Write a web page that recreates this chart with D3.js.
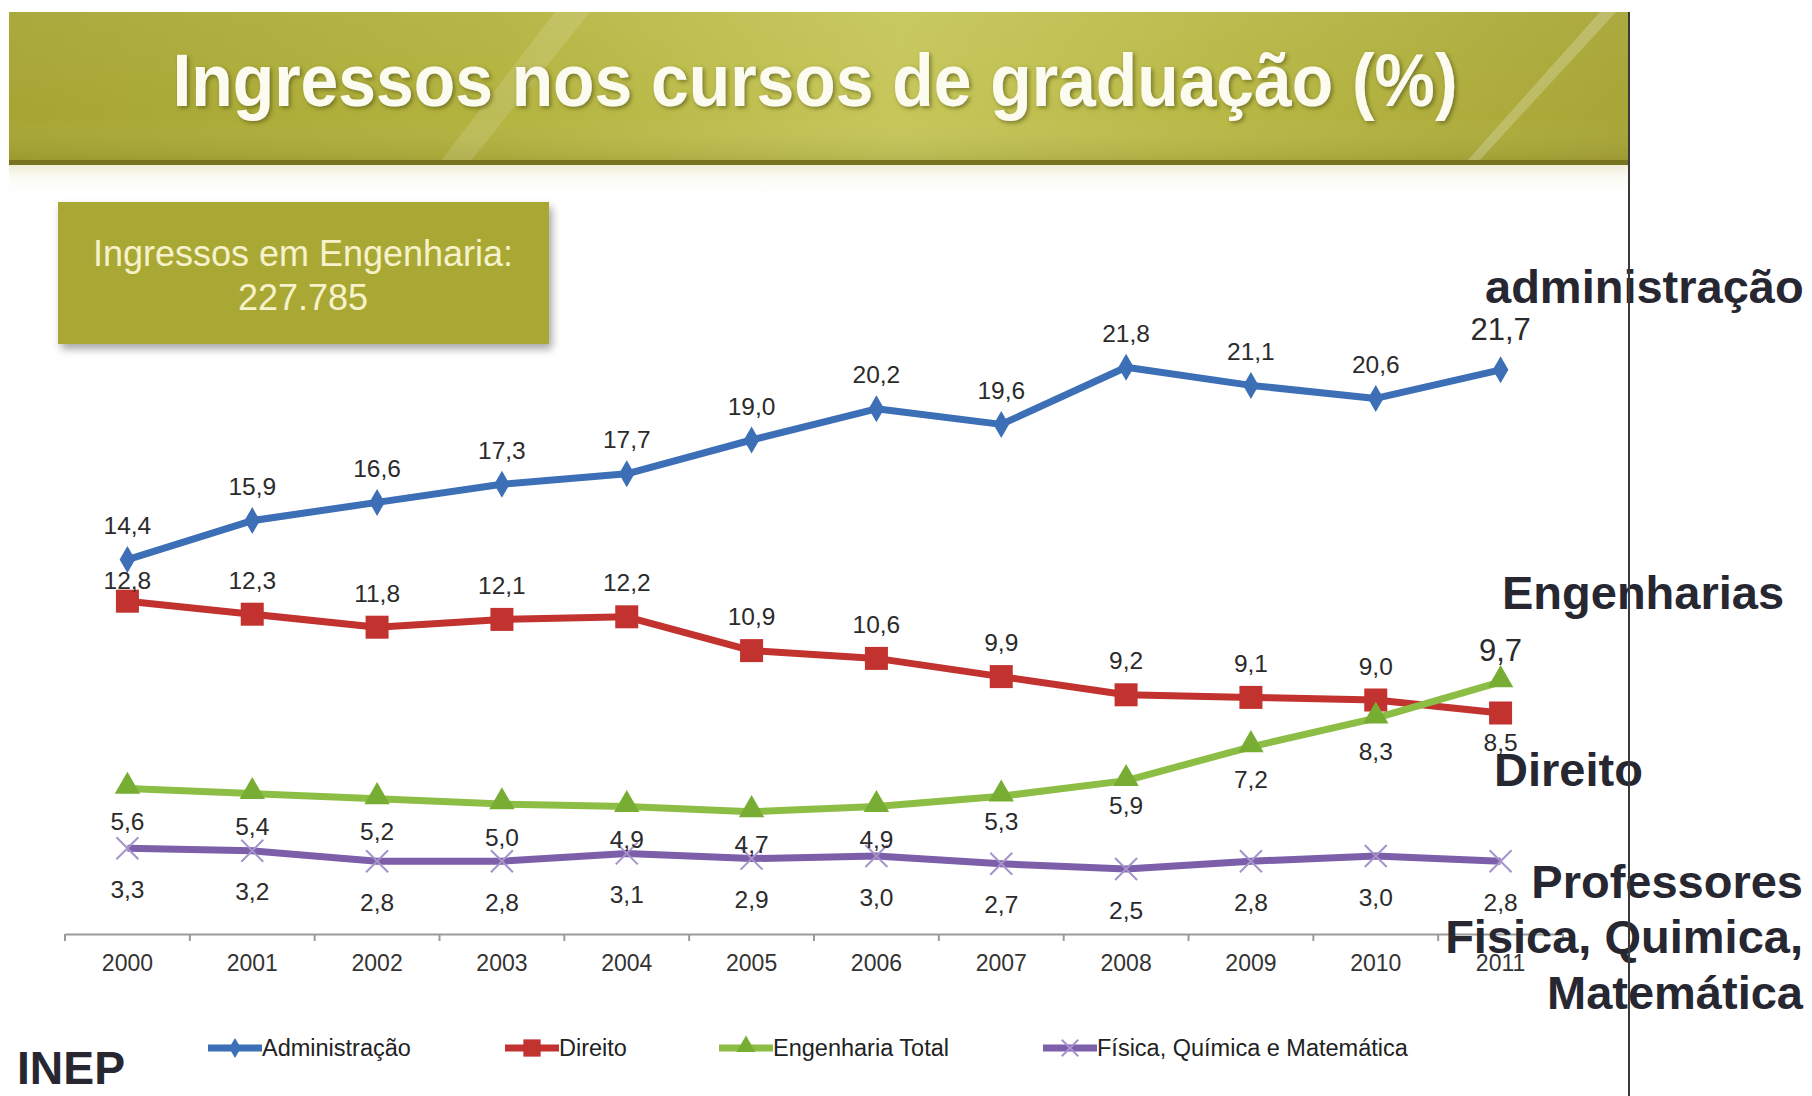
<!DOCTYPE html>
<html>
<head>
<meta charset="utf-8">
<script src="https://cdn.jsdelivr.net/npm/d3@7"></script>
<style>
  html, body { margin: 0; padding: 0; background: #ffffff; }
  svg { display: block; }
</style>
</head>
<body>
<svg id="chart" width="1812" height="1096"></svg>
<script>
// ---------------- DATA ----------------
const years = ["2000","2001","2002","2003","2004","2005","2006","2007","2008","2009","2010","2011"];
const administracao = [14.4, 15.9, 16.6, 17.3, 17.7, 19.0, 20.2, 19.6, 21.8, 21.1, 20.6, 21.7];
const direito       = [12.8, 12.3, 11.8, 12.1, 12.2, 10.9, 10.6, 9.9, 9.2, 9.1, 9.0, 8.5];
const engenharia    = [5.6, 5.4, 5.2, 5.0, 4.9, 4.7, 4.9, 5.3, 5.9, 7.2, 8.3, 9.7];
const fisQuiMat     = [3.3, 3.2, 2.8, 2.8, 3.1, 2.9, 3.0, 2.7, 2.5, 2.8, 3.0, 2.8];
const seriesNames   = ["Administração", "Direito", "Engenharia Total", "Física, Química e Matemática"];
const titleText     = "Ingressos nos cursos de graduação (%)";
const boxLines      = ["Ingressos em Engenharia:", "227.785"];
const sideNotes     = ["administração", "Engenharias", "Direito", "Professores", "Fisica, Quimica,", "Matemática"];
const sourceText    = "INEP";

// ---------------- SETUP ----------------
const svg = d3.select("#chart");
const font = "'Liberation Sans', Arial, sans-serif";

const defs = svg.append("defs");
const bannerGrad = defs.append("linearGradient").attr("id", "bannerGrad").attr("x1", "0").attr("x2", "1").attr("y1", "0").attr("y2", "0");
[["0%", "#a6a533"], ["30%", "#b3b33f"], ["55%", "#c6c65a"], ["75%", "#b8b846"], ["100%", "#a7a535"]]
  .forEach(([o, c]) => bannerGrad.append("stop").attr("offset", o).attr("stop-color", c));
const bannerV = defs.append("linearGradient").attr("id", "bannerV").attr("x1", "0").attr("x2", "0").attr("y1", "0").attr("y2", "1");
[["0%", "rgba(255,255,255,0.05)"], ["70%", "rgba(255,255,255,0)"], ["100%", "rgba(60,60,0,0.12)"]]
  .forEach(([o, c]) => bannerV.append("stop").attr("offset", o).attr("stop-color", c));
const underGrad = defs.append("linearGradient").attr("id", "underGrad").attr("x1", "0").attr("x2", "0").attr("y1", "0").attr("y2", "1");
[["0%", "#eeeed8"], ["40%", "#fbfbf4"], ["100%", "#ffffff"]]
  .forEach(([o, c]) => underGrad.append("stop").attr("offset", o).attr("stop-color", c));
const shadow = defs.append("filter").attr("id", "boxShadow").attr("x", "-10%").attr("y", "-10%").attr("width", "130%").attr("height", "140%");
shadow.append("feDropShadow").attr("dx", 3).attr("dy", 5).attr("stdDeviation", 4).attr("flood-color", "#000").attr("flood-opacity", 0.35);
const txtShadow = defs.append("filter").attr("id", "txtShadow");
txtShadow.append("feDropShadow").attr("dx", 2).attr("dy", 2).attr("stdDeviation", 2).attr("flood-color", "#4d4c10").attr("flood-opacity", 0.6);

// ---------------- BANNER ----------------
svg.append("rect").attr("x", 9).attr("y", 12).attr("width", 1620).attr("height", 150).attr("fill", "url(#bannerGrad)");
svg.append("rect").attr("x", 9).attr("y", 12).attr("width", 1620).attr("height", 150).attr("fill", "url(#bannerV)");
// light diagonal streaks
svg.append("path").attr("d", "M555,12 L590,12 L470,162 L440,162 Z").attr("fill", "#ffffff").attr("opacity", 0.13);
svg.append("path").attr("d", "M1600,12 L1616,12 L1478,162 L1466,162 Z").attr("fill", "#ffffff").attr("opacity", 0.22);
svg.append("rect").attr("x", 9).attr("y", 160).attr("width", 1620).attr("height", 5).attr("fill", "#76741f");
svg.append("rect").attr("x", 9).attr("y", 165).attr("width", 1620).attr("height", 30).attr("fill", "url(#underGrad)");

svg.append("text")
  .attr("x", 815).attr("y", 106)
  .attr("text-anchor", "middle")
  .attr("font-family", font).attr("font-weight", "bold").attr("font-size", 74)
  .attr("textLength", 1285).attr("lengthAdjust", "spacingAndGlyphs")
  .attr("fill", "#fbfbf0").attr("filter", "url(#txtShadow)")
  .text(titleText);

// ---------------- INFO BOX ----------------
svg.append("rect").attr("x", 58).attr("y", 202).attr("width", 491).attr("height", 142)
  .attr("fill", "#aaa834").attr("filter", "url(#boxShadow)");
svg.selectAll("text.boxline").data(boxLines).join("text")
  .attr("class", "boxline")
  .attr("x", 303).attr("y", (d, i) => 266 + i * 44)
  .attr("text-anchor", "middle")
  .attr("font-family", font).attr("font-size", 36)
  .attr("fill", "#f6f2cc")
  .text(d => d);

// ---------------- SCALES ----------------
const xBand = d3.scaleBand().domain(years).range([65, 1563]).padding(0);
const x = d => xBand(d) + xBand.bandwidth() / 2;
const y = d3.scaleLinear().domain([0, 25]).range([934, 284]);

// ---------------- AXIS ----------------
const axisG = svg.append("g").attr("transform", "translate(0,934)");
axisG.call(d3.axisBottom(xBand).tickSize(0).tickPadding(17))
  .call(g => g.select(".domain").attr("stroke", "#9a9a9a").attr("stroke-width", 2))
  .call(g => g.selectAll("text").attr("font-family", font).attr("font-size", 23).attr("fill", "#333").attr("dy", "0.85em"));
const bounds = years.map(d => xBand(d)).concat([xBand(years[years.length - 1]) + xBand.bandwidth()]);
axisG.selectAll("line.btick").data(bounds).join("line")
  .attr("class", "btick")
  .attr("x1", d => d).attr("x2", d => d).attr("y1", 0).attr("y2", 7)
  .attr("stroke", "#9a9a9a").attr("stroke-width", 2);

// ---------------- SERIES ----------------
const series = [
  { name: seriesNames[0], values: administracao, color: "#3c6fb6", marker: "diamond", labelPos: -34 },
  { name: seriesNames[1], values: direito,       color: "#c2322f", marker: "square",  labelPos: -34 },
  { name: seriesNames[2], values: engenharia,    color: "#8cbe46", marker: "triangle", labelPos: 33 },
  { name: seriesNames[3], values: fisQuiMat,     color: "#7d5ea9", marker: "x",        labelPos: 41 }
];

function drawMarker(g, type, color, cx, cy, scale) {
  const k = scale || 1;
  if (type === "diamond") {
    g.append("path").attr("d", d3.symbol(d3.symbolDiamond, 210 * k * k)()).attr("transform", `translate(${cx},${cy})`).attr("fill", color);
  } else if (type === "square") {
    g.append("rect").attr("x", cx - 11.5 * k).attr("y", cy - 11.5 * k).attr("width", 23 * k).attr("height", 23 * k).attr("fill", color);
  } else if (type === "triangle") {
    g.append("path").attr("d", d3.symbol(d3.symbolTriangle, 280 * k * k)()).attr("transform", `translate(${cx},${cy - 2 * k})`).attr("fill", "#78ad34");
  } else {
    const r = 11 * k;
    g.append("path").attr("d", `M${cx - r},${cy - r}L${cx + r},${cy + r}M${cx - r},${cy + r}L${cx + r},${cy - r}`)
      .attr("stroke", "#a593cc").attr("stroke-width", 2).attr("fill", "none");
  }
}

const line = d3.line().x((d, i) => x(years[i])).y(d => y(d));
const plotG = svg.append("g");
series.forEach(s => {
  plotG.append("path").datum(s.values).attr("d", line)
    .attr("fill", "none").attr("stroke", s.color).attr("stroke-width", 7).attr("stroke-linejoin", "round");
});
series.forEach(s => {
  const g = plotG.append("g");
  s.values.forEach((v, i) => drawMarker(g, s.marker, s.color, x(years[i]), y(v), 1));
});

// data labels
const fmt = v => d3.format(".1f")(v).replace(".", ",");
const last = years.length - 1;
series.forEach((s, si) => {
  s.values.forEach((v, i) => {
    let off = s.labelPos, size = 24.5, dx = 0;
    if (si === 1 && i === 0) off = -21;
    if (si === 1 && i === last) off = 29;
    if (si === 2 && i === last) { off = -31; size = 31; }
    if (si === 0 && i === last) { off = -40; size = 31; }
    if (si === 2 && (i === 7 || i === 8)) off = 25;
    plotG.append("text")
      .attr("x", x(years[i]) + dx).attr("y", y(v) + off)
      .attr("text-anchor", "middle").attr("dominant-baseline", "central")
      .attr("font-family", font).attr("font-size", size).attr("fill", "#2b2b2b")
      .text(fmt(v));
  });
});

// ---------------- LEGEND ----------------
const legendX = [208, 505, 719, 1043];
const legG = svg.append("g").attr("transform", "translate(0,1048)");
series.forEach((s, i) => {
  const lx = legendX[i];
  legG.append("line").attr("x1", lx).attr("x2", lx + 54).attr("y1", 0).attr("y2", 0)
    .attr("stroke", s.color).attr("stroke-width", 7);
  drawMarker(legG, s.marker, s.color, lx + 27, 0, 0.75);
  legG.append("text").attr("x", lx + 54).attr("y", 0).attr("dominant-baseline", "central")
    .attr("font-family", font).attr("font-size", 23.5).attr("fill", "#222")
    .text(s.name);
});

// ---------------- SOURCE ----------------
svg.append("text").attr("x", 17).attr("y", 1084)
  .attr("font-family", font).attr("font-weight", "bold").attr("font-size", 46)
  .attr("textLength", 108).attr("lengthAdjust", "spacingAndGlyphs")
  .attr("fill", "#272732").text(sourceText);

// ---------------- SIDE NOTES ----------------
const noteSpecs = [
  { x: 1485, y: 303, anchor: "start" },
  { x: 1502, y: 609, anchor: "start" },
  { x: 1494, y: 786, anchor: "start" },
  { x: 1803, y: 898, anchor: "end" },
  { x: 1803, y: 953, anchor: "end" },
  { x: 1803, y: 1009, anchor: "end" }
];
svg.selectAll("text.note").data(sideNotes).join("text")
  .attr("class", "note")
  .attr("x", (d, i) => noteSpecs[i].x).attr("y", (d, i) => noteSpecs[i].y)
  .attr("text-anchor", (d, i) => noteSpecs[i].anchor)
  .attr("font-family", font).attr("font-weight", "bold").attr("font-size", 47)
  .attr("fill", "#272732")
  .text(d => d);

// vertical divider line
svg.append("line").attr("x1", 1629).attr("x2", 1629).attr("y1", 12).attr("y2", 1096)
  .attr("stroke", "#3a3a3a").attr("stroke-width", 2);
</script>
</body>
</html>
